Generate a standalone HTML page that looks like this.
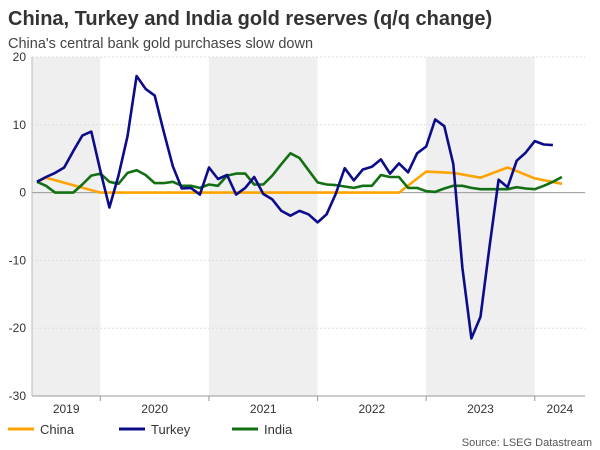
<!DOCTYPE html>
<html><head><meta charset="utf-8"><style>
body{margin:0;background:#fff;font-family:"Liberation Sans",sans-serif;}
#wrap{position:relative;width:600px;height:450px;overflow:hidden;}
</style></head><body>
<div id="wrap">
<svg id="chart" width="600" height="450">
<text x="8" y="25" font-size="20" font-weight="bold" fill="#333">China, Turkey and India gold reserves (q/q change)</text>
<text x="8" y="48" font-size="14.5" fill="#444">China's central bank gold purchases slow down</text>
<g id="bands"></g><g id="grid"></g><g id="series"></g><g id="axes"></g>
<g>
<g><line x1="8" y1="429" x2="34" y2="429" stroke="#ffa300" stroke-width="3"/><text x="40" y="434" font-size="13" fill="#333">China</text></g>
<g><line x1="119" y1="429" x2="145" y2="429" stroke="#0c0c8a" stroke-width="3"/><text x="151" y="434" font-size="13" fill="#333">Turkey</text></g>
<g><line x1="232" y1="429" x2="258" y2="429" stroke="#127012" stroke-width="3"/><text x="264" y="434" font-size="13" fill="#333">India</text></g>
</g>
<text x="592" y="446" font-size="11" fill="#555" text-anchor="end">Source: LSEG Datastream</text>
</svg></div>
<script>
const yTicks=[20,10,0,-10,-20,-30];
const years=["2019","2020","2021","2022","2023","2024"];
const turkey=[1.6,2.3,2.9,3.7,6.1,8.4,9.0,3.2,-2.2,2.5,8.3,17.2,15.3,14.3,9.0,3.9,0.6,0.7,-0.3,3.7,2.0,2.6,-0.3,0.7,2.3,-0.2,-1.0,-2.7,-3.4,-2.7,-3.2,-4.4,-3.2,-0.2,3.6,1.8,3.4,3.8,4.9,2.8,4.3,3.0,5.8,6.8,10.8,9.8,4.2,-11.1,-21.5,-18.3,-8.0,1.9,0.8,4.7,5.9,7.6,7.1,7.0];
const india=[1.6,1.0,0,0,0,1.2,2.5,2.8,1.6,1.3,2.9,3.3,2.6,1.4,1.4,1.6,1.0,1.0,0.7,1.2,1.0,2.5,2.8,2.8,1.2,1.2,2.5,4.2,5.8,5.1,3.3,1.5,1.2,1.1,0.9,0.7,1.0,1.0,2.6,2.3,2.3,0.7,0.7,0.2,0.1,0.6,1.0,1.0,0.7,0.5,0.5,0.5,0.5,0.8,0.6,0.5,1.0,1.6,2.3];
const chinaIdx=[0,1,7,40,43,46,49,52,55,58];
const chinaVals=[1.6,2.2,0,0,3.1,2.9,2.2,3.7,2.1,1.3];
const NS="http://www.w3.org/2000/svg";
const L=32,R=585,T=57,B=396,yMax=20,yMin=-30;
const y=v=>T+(yMax-v)/(yMax-yMin)*(B-T);
const x=i=>37+i*9.05;
const yearStart=k=>x(7+12*(k-1)); // Jan of year k (k=1 -> 2020)
function mk(t,a,p){const e=document.createElementNS(NS,t);for(const k in a)e.setAttribute(k,a[k]);(p||document.getElementById('chart')).appendChild(e);return e;}
const bands=document.getElementById('bands'),grid=document.getElementById('grid'),axes=document.getElementById('axes'),ser=document.getElementById('series');
// bands: 2019, 2021, 2023
years.forEach((yr,k)=>{
  const x0=k===0?L:yearStart(k), x1=k===years.length-1?R:yearStart(k+1);
  if(k%2===0){const r=mk('rect',{x:x0,y:T,width:x1-x0,height:B-T,fill:'#efefef'},bands);
    
    }
  const t=mk('text',{x:(x0+x1)/2,y:413,'font-size':12,fill:'#333','text-anchor':'middle'},axes);t.textContent=yr;
  
  
  if(k>0){const tk=mk('line',{x1:x0,x2:x0,y1:B,y2:B+5,stroke:'#999'},axes);
    
    }
});
yTicks.forEach(v=>{
  if(v!==0&&v!==yMin){const g=mk('line',{x1:L,x2:R,y1:y(v),y2:y(v),stroke:'#ddd','stroke-dasharray':'2,2'},grid);
    
    }
  const t=mk('text',{x:26,y:y(v)+4,'font-size':12,fill:'#333','text-anchor':'end'},axes);t.textContent=v;
  
  
});
const z=mk('line',{x1:L,x2:R,y1:y(0),y2:y(0),stroke:'#999'},grid);


const ax=mk('line',{x1:L,x2:R,y1:B,y2:B,stroke:'#999'},axes);


const ay=mk('line',{x1:L,x2:L,y1:T,y2:B,stroke:'#bbb'},axes);


function line(idx,vals,col,name){
  const pts=vals.map((v,j)=>x(idx?idx[j]:j).toFixed(1)+','+y(v).toFixed(1)).join(' ');
  const p=mk('polyline',{points:pts,fill:'none',stroke:col,'stroke-width':2.6,'stroke-linejoin':'round'},ser);
  
  
}
line(chinaIdx,chinaVals,'#ffa300','china-line');
line(null,india,'#127012','india-line');
line(null,turkey,'#0c0c8a','turkey-line');
</script>
</body></html>
